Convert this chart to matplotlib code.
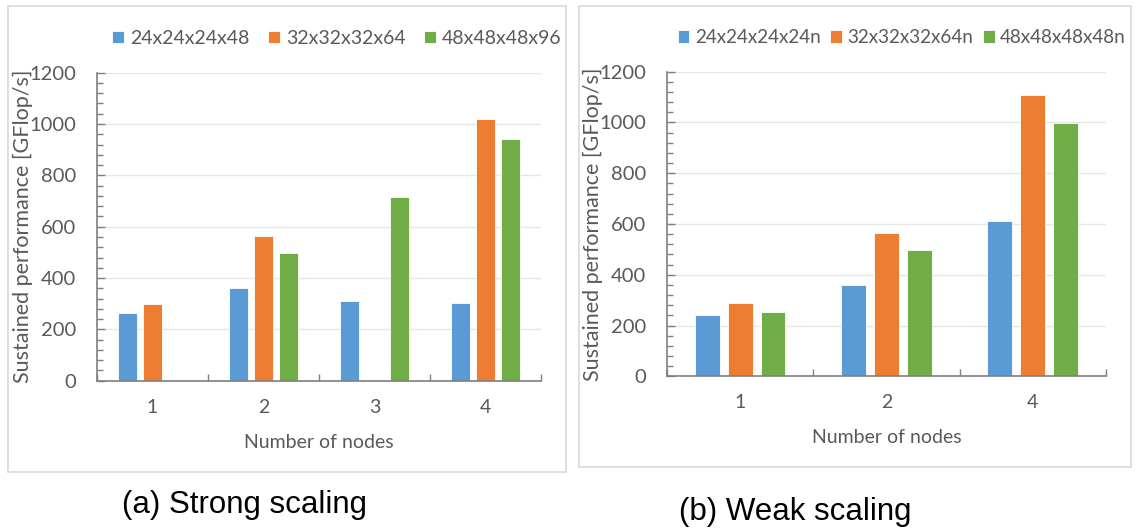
import numpy as np
import matplotlib.pyplot as plt
from matplotlib.patches import Rectangle
from matplotlib.ticker import MultipleLocator, FixedLocator

# strong scaling (a)
strong_nodes = ["1", "2", "3", "4"]
strong_labels = ["24x24x24x48", "32x32x32x64", "48x48x48x96"]
strong_small = [263, 360, 311, 302]
strong_mid = [297, 562, np.nan, 1018]
strong_big = [np.nan, 498, 717, 940]

# weak scaling (b)
weak_nodes = ["1", "2", "4"]
weak_labels = ["24x24x24x24n", "32x32x32x64n", "48x48x48x48n"]
weak_small = [242, 360, 612]
weak_mid = [290, 563, 1110]
weak_big = [255, 498, 997]

colors = ["#5B9BD5", "#ED7D31", "#70AD47"]
txt = "#595959"
tick_font = "Lato"


def draw_panel(ax, nodes, labels, series, leg_x, colspace, leg_size):
    x = np.arange(len(nodes))
    step = 0.225
    for i, (vals, lab) in enumerate(zip(series, labels)):
        ax.bar(x + (i - 1) * step, vals, width=0.17, color=colors[i],
               edgecolor="white", linewidth=0.6, label=lab, zorder=2)
    ax.set_xlim(-0.5, len(nodes) - 0.5)
    ax.set_ylim(0, 1200)
    ax.yaxis.set_major_locator(MultipleLocator(200))
    ax.yaxis.set_minor_locator(MultipleLocator(40))
    ax.set_xticks(x)
    ax.set_xticklabels(nodes)
    ax.xaxis.set_minor_locator(FixedLocator(np.arange(len(nodes) + 1) - 0.5))
    ax.tick_params(axis="x", which="major", length=0, pad=13,
                   labelsize=14, labelcolor=txt)
    ax.tick_params(axis="x", which="minor", direction="in", length=5,
                   width=1, color="#7f7f7f")
    ax.tick_params(axis="y", which="major", direction="in", length=6,
                   width=1, color="#7f7f7f", pad=15, labelsize=14.5,
                   labelcolor=txt)
    ax.tick_params(axis="y", which="minor", direction="in", length=4,
                   width=1, color="#7f7f7f")
    for lb in ax.get_xticklabels() + ax.get_yticklabels():
        lb.set_family(tick_font)
    ax.grid(axis="y", which="major", color="#E6E6E6", linewidth=1, zorder=0)
    ax.set_axisbelow(True)
    for s in ["top", "right"]:
        ax.spines[s].set_visible(False)
    for s in ["left", "bottom"]:
        ax.spines[s].set_color("#7f7f7f")
        ax.spines[s].set_linewidth(1.2)
    ax.set_xlabel("Number of nodes", fontsize=14, color=txt,
                  family=tick_font, labelpad=13)
    ax.set_ylabel("Sustained performance [GFlop/s]", fontsize=15.5,
                  color=txt, family=tick_font, labelpad=-3)
    leg = ax.legend(loc="center", bbox_to_anchor=(leg_x, 1.112), ncol=3,
                    frameon=False, handlelength=0.62,
                    handleheight=0.62, handletextpad=0.3,
                    columnspacing=colspace,
                    prop={"family": tick_font, "size": leg_size})
    for t in leg.get_texts():
        t.set_color(txt)


fig = plt.figure(figsize=(11.36, 5.29), dpi=100)

# panel frames
fig.patches.append(Rectangle((8 / 1136, 1 - 472 / 529), 558 / 1136, 466 / 529,
                             transform=fig.transFigure, fill=False,
                             edgecolor="#D9D9D9", linewidth=1.2))
fig.patches.append(Rectangle((579 / 1136, 1 - 467 / 529), 552 / 1136, 461 / 529,
                             transform=fig.transFigure, fill=False,
                             edgecolor="#D9D9D9", linewidth=1.2))

ax1 = fig.add_axes([0.0854, 0.2803, 0.3908, 0.5823])
draw_panel(ax1, strong_nodes, strong_labels,
           [strong_small, strong_mid, strong_big], 0.54, 0.95, 14)

ax2 = fig.add_axes([0.5871, 0.2887, 0.3865, 0.5758])
draw_panel(ax2, weak_nodes, weak_labels,
           [weak_small, weak_mid, weak_big], 0.535, 0.5, 13.6)

fig.text(245 / 1136, 1 - 505 / 529, "(a) Strong scaling", ha="center",
         va="center", fontsize=22.5, family="Liberation Sans")
fig.text(795 / 1136, 1 - 512 / 529, "(b) Weak scaling", ha="center",
         va="center", fontsize=22.5, family="Liberation Sans")

fig.savefig("out.png", dpi=100)
